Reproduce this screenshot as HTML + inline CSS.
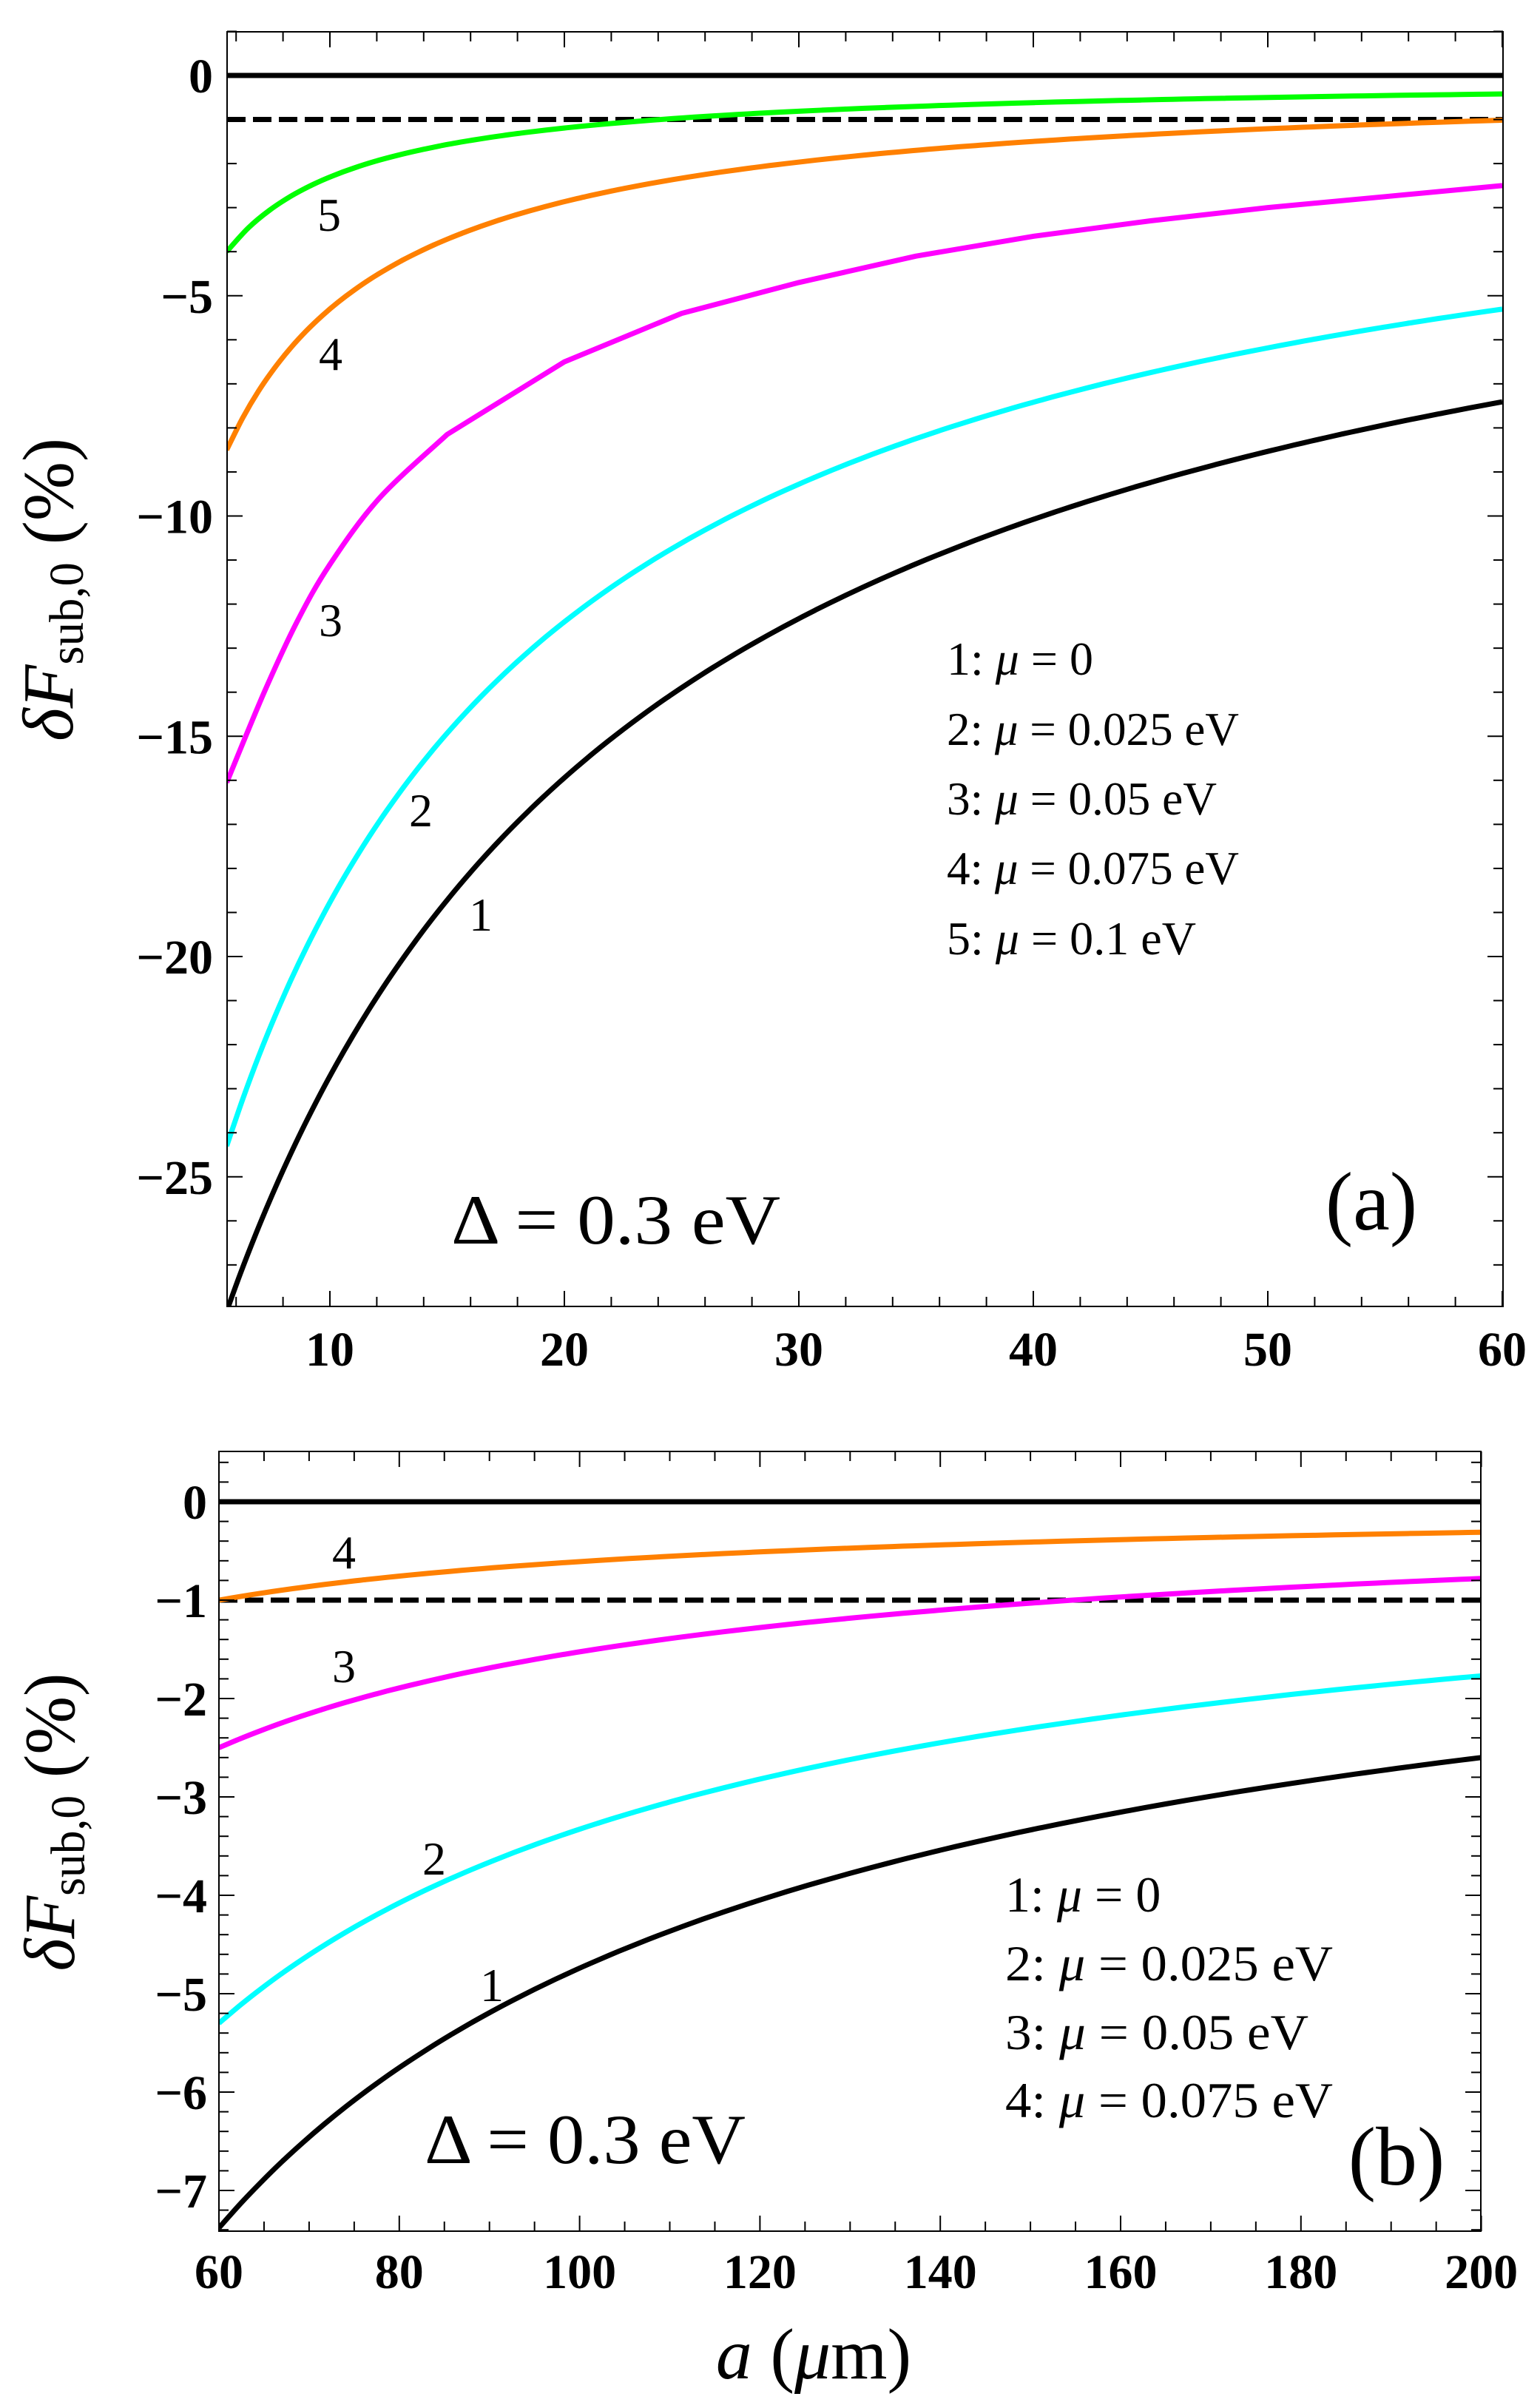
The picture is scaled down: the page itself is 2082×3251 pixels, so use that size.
<!DOCTYPE html>
<html><head><meta charset="utf-8"><style>
html,body{margin:0;padding:0;background:#fff}
svg{display:block;font-family:"Liberation Serif",serif}
text{font-family:"Liberation Serif",serif}
.tk{font-weight:bold;font-size:66px;font-family:"Liberation Serif",serif}
</style></head><body>
<svg id="s" width="2082" height="3251" viewBox="0 0 2082 3251" xmlns="http://www.w3.org/2000/svg" font-family="Liberation Serif, serif">
<rect width="2082" height="3251" fill="#fff"/>
<g id="g"></g>
<text x="98" y="797" font-size="98" text-anchor="middle" transform="rotate(-90 98 797)" textLength="410" lengthAdjust="spacingAndGlyphs"><tspan font-style="italic">δF</tspan><tspan font-size="66" dy="14">sub,0</tspan><tspan dy="-14"> (%)</tspan></text>
<text x="445" y="312" font-size="64" text-anchor="middle">5</text>
<text x="447" y="500" font-size="64" text-anchor="middle">4</text>
<text x="447" y="860" font-size="64" text-anchor="middle">3</text>
<text x="569" y="1117" font-size="64" text-anchor="middle">2</text>
<text x="650" y="1258" font-size="64" text-anchor="middle">1</text>
<g font-size="64">
<text x="1280" y="912">1:  <tspan font-style="italic">μ</tspan> = 0</text>
<text x="1280" y="1007" textLength="395" lengthAdjust="spacingAndGlyphs">2:  <tspan font-style="italic">μ</tspan> = 0.025 eV</text>
<text x="1280" y="1101" textLength="365" lengthAdjust="spacingAndGlyphs">3:  <tspan font-style="italic">μ</tspan> = 0.05 eV</text>
<text x="1280" y="1195" textLength="395" lengthAdjust="spacingAndGlyphs">4:  <tspan font-style="italic">μ</tspan> = 0.075 eV</text>
<text x="1280" y="1290" textLength="337" lengthAdjust="spacingAndGlyphs">5:  <tspan font-style="italic">μ</tspan> = 0.1 eV</text>
</g>
<text x="610" y="1681" font-size="95" textLength="445" lengthAdjust="spacingAndGlyphs">Δ = 0.3 eV</text>
<text x="1854" y="1662" font-size="112" text-anchor="middle">(a)</text>
<text x="100" y="2463" font-size="98" text-anchor="middle" transform="rotate(-90 100 2463)" textLength="403" lengthAdjust="spacingAndGlyphs"><tspan font-style="italic">δF</tspan><tspan font-size="66" dy="14">sub,0</tspan><tspan dy="-14"> (%)</tspan></text>
<text x="465" y="2120" font-size="64" text-anchor="middle">4</text>
<text x="465" y="2274" font-size="64" text-anchor="middle">3</text>
<text x="587" y="2534" font-size="64" text-anchor="middle">2</text>
<text x="665" y="2705" font-size="64" text-anchor="middle">1</text>
<g font-size="68">
<text x="1359" y="2584">1:  <tspan font-style="italic">μ</tspan> = 0</text>
<text x="1359" y="2677" textLength="443" lengthAdjust="spacingAndGlyphs">2:  <tspan font-style="italic">μ</tspan> = 0.025 eV</text>
<text x="1359" y="2770" textLength="410" lengthAdjust="spacingAndGlyphs">3:  <tspan font-style="italic">μ</tspan> = 0.05 eV</text>
<text x="1359" y="2862" textLength="443" lengthAdjust="spacingAndGlyphs">4:  <tspan font-style="italic">μ</tspan> = 0.075 eV</text>
</g>
<text x="574" y="2924" font-size="95" textLength="434" lengthAdjust="spacingAndGlyphs">Δ = 0.3 eV</text>
<text x="1888" y="2953" font-size="112" text-anchor="middle">(b)</text>
<text x="1100" y="3215" font-size="98" text-anchor="middle"><tspan font-style="italic">a</tspan> (<tspan font-style="italic">μ</tspan>m)</text>
</svg>
<script>
(function(){
var g=document.getElementById('g'),out='';
function el(s){out+=s;}
function line(x1,y1,x2,y2,w,c,extra){el('<line x1="'+x1+'" y1="'+y1+'" x2="'+x2+'" y2="'+y2+'" stroke="'+(c||'#000')+'" stroke-width="'+w+'" '+(extra||'')+'/>');}
function cr(pts){
  var d='M'+pts[0][0].toFixed(1)+','+pts[0][1].toFixed(1);
  for(var i=0;i<pts.length-1;i++){
    var p0=pts[i-1]||pts[i],p1=pts[i],p2=pts[i+1],p3=pts[i+2]||p2;
    var c1=[p1[0]+(p2[0]-p0[0])/6,p1[1]+(p2[1]-p0[1])/6],c2=[p2[0]-(p3[0]-p1[0])/6,p2[1]-(p3[1]-p1[1])/6];
    d+=' C'+c1[0].toFixed(1)+','+c1[1].toFixed(1)+' '+c2[0].toFixed(1)+','+c2[1].toFixed(1)+' '+p2[0].toFixed(1)+','+p2[1].toFixed(1);
  }return d;}
function pw(x0,y0,x1,y1){var p=Math.log(y0/y1)/Math.log(x1/x0);var a=[];for(var i=0;i<=60;i++){var x=x0+(x1-x0)*i/60;a.push([x,y0*Math.pow(x0/x,p)]);}return a;}
function sh(x0,x1,y0,c,p){var a=[];for(var i=0;i<=80;i++){var x=x0+(x1-x0)*i/80;a.push([x,y0*Math.pow((x0+c)/(x+c),p)]);}return a;}
function panel(P){
  var X=P.X,Y=P.Y;
  el('<defs><clipPath id="c'+P.id+'"><rect x="'+P.l+'" y="'+P.t+'" width="'+(P.r-P.l)+'" height="'+(P.b-P.t)+'"/></clipPath></defs>');
  el('<g clip-path="url(#c'+P.id+')">');
  line(P.l,Y(0),P.r,Y(0),7);
  line(P.l,Y(-1),P.r,Y(-1),7,'#000','stroke-dasharray="25,10"');
  P.curves.forEach(function(c){
    var pts=c.p.map(function(q){return [X(q[0]),Y(q[1])];});
    var d;
    if(c.lin){var sm=pts.slice(0,c.lin+1);d=cr(sm);for(var i=c.lin+1;i<pts.length;i++)d+=' L'+pts[i][0].toFixed(1)+','+pts[i][1].toFixed(1);}
    else d=cr(pts);
    el('<path d="'+d+'" fill="none" stroke="'+c.c+'" stroke-width="7" stroke-linejoin="round"/>');
  });
  el('</g>');
  el('<rect x="'+P.l+'" y="'+P.t+'" width="'+(P.r-P.l)+'" height="'+(P.b-P.t)+'" fill="none" stroke="#000" stroke-width="2"/>');
  var v;
  for(v=P.xminT;v<=P.xmax+1e-9;v+=P.xm){var x=X(v);if(x<P.l-1||x>P.r+1)continue;var maj=Math.abs(v/P.xM-Math.round(v/P.xM))<1e-6;var L=maj?21:13;
    line(x,P.b,x,P.b-L,2);line(x,P.t,x,P.t+L,2);
    if(maj)el('<text class="tk" font-family="Liberation Serif, serif" font-weight="bold" x="'+x+'" y="'+P.xly+'" text-anchor="middle">'+Math.round(v)+'</text>');}
  for(v=P.ymaxT;v>=P.ymin-1e-9;v-=P.ym){var y=Y(v);if(y<P.t-1||y>P.b+1)continue;var maj=Math.abs(v/P.yM-Math.round(v/P.yM))<1e-6;var L=maj?21:13;
    line(P.l,y,P.l+L,y,2);line(P.r,y,P.r-L,y,2);
    if(maj){var r=Math.round(v);el('<text class="tk" font-family="Liberation Serif, serif" font-weight="bold" x="'+P.ylx+'" y="'+(y+23)+'" text-anchor="end">'+(r<0?'\u2212'+(-r):r)+'</text>');}}
}
panel({id:'a',l:307,r:2032,t:43,b:1766,X:function(x){return 446+(x-10)*31.7;},Y:function(y){return 102-59.55*y;},
 xminT:6,xmax:60,xm:2,xM:10,ymaxT:1,ymin:-28,ym:1,yM:5,xly:1846,ylx:288,
 curves:[
 {c:'#000',p:sh(5.5,60,-28.2,12,0.945)},
 {c:'#00ffff',p:sh(5.6,60,-24.3,9,0.98)},
 {c:'#ff00ff',lin:5,p:[[5.6,-16.05],[7.2,-14.0],[8.6,-12.4],[10,-11.1],[12.1,-9.6],[15,-8.15],[20,-6.5],[25,-5.4],[30,-4.7],[35,-4.1],[40,-3.65],[45,-3.3],[50,-3.0],[55,-2.75],[60,-2.5]]},
 {c:'#ff8000',p:sh(5.6,60,-8.5,1.6,0.99)},
 {c:'#00ff00',p:pw(5.6,-4.0,60,-0.42)}
 ]});
panel({id:'b',l:296,r:2002,t:1962,b:3016,X:function(x){return 296+(x-60)*12.19;},Y:function(y){return 2030-133*y;},
 xminT:60,xmax:200,xm:5,xM:20,ymaxT:0.4,ymin:-7.4,ym:0.2,yM:1,xly:3093,ylx:280,
 curves:[
 {c:'#000',p:pw(60,-7.38,200,-2.6)},
 {c:'#00ffff',p:pw(60,-5.3,200,-1.77)},
 {c:'#ff00ff',p:pw(60,-2.5,200,-0.78)},
 {c:'#ff8000',p:pw(60,-1.0,200,-0.31)}
 ]});
g.innerHTML=out;
})();
</script>
</body></html>
